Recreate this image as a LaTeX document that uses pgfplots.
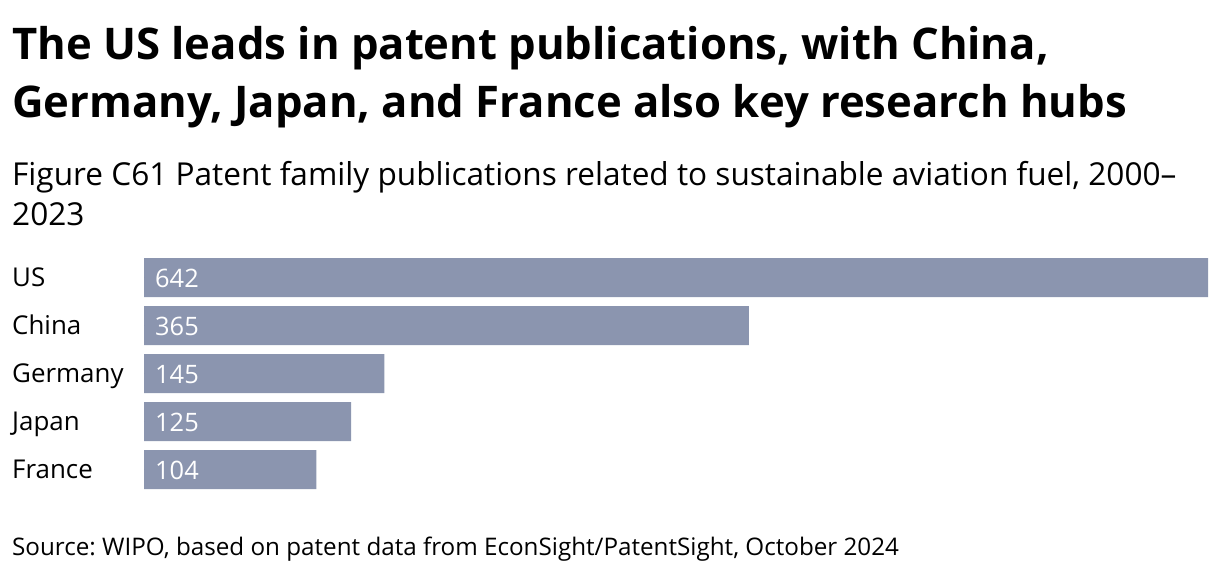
\documentclass[border=0pt]{standalone}
\usepackage{fontspec}
\setmainfont{Open Sans}
\usepackage{pgfplots}
\pgfplotsset{compat=1.18}
\definecolor{barc}{HTML}{8B95AF}
\frenchspacing
\begin{document}
\begin{tikzpicture}[x=1bp,y=1bp]
\path[use as bounding box] (0,0) rectangle (1220,-574);
% titles
\node[anchor=base west, inner sep=0, font=\fontsize{43.8}{50}\selectfont\bfseries] at (12,-60) {The US leads in patent publications, with China,};
\node[anchor=base west, inner sep=0, font=\fontsize{43.8}{50}\selectfont\bfseries] at (12,-118) {Germany, Japan, and France also key research hubs};
\node[anchor=base west, inner sep=0, font=\fontsize{31.7}{38}\selectfont] at (12,-186) {Figure C61 Patent family publications related to sustainable aviation fuel, 2000–};
\node[anchor=base west, inner sep=0, font=\fontsize{31.7}{38}\selectfont] at (12,-226) {2023};
\node[anchor=base west, inner sep=0, font=\fontsize{24.3}{28}\selectfont] at (12,-555) {Source: WIPO, based on patent data from EconSight/PatentSight, October 2024};

\begin{axis}[
    at={(144bp,-258bp)}, anchor=north west,
    scale only axis,
    width=1064bp, height=231bp,
    xmin=0, xmax=642,
    ymin=-0.40625, ymax=4.40625,
    y dir=reverse,
    axis line style={draw=none},
    tick style={draw=none},
    major tick length=0pt,
    xtick=\empty,
    ytick={0,1,2,3,4},
    yticklabels={US,China,Germany,Japan,France},
    yticklabel style={anchor=base west, inner sep=0pt, xshift=-132bp, yshift=-9bp,
        font=\fontsize{26}{30}\selectfont},
    clip=false,
    ]
\addplot[xbar, bar width=39bp, fill=barc, draw=none]
    coordinates {(642,0) (365,1) (145,2) (125,3) (104,4)};
\addplot[only marks, mark=*, mark size=0pt, mark options={draw=none, fill=none},
    point meta=explicit symbolic,
    nodes near coords,
    every node near coord/.append style={anchor=base west, inner sep=0pt,
        text=white, xshift=11bp, yshift=-10bp, font=\fontsize{25.5}{30}\selectfont}]
    coordinates {(0,0)[642] (0,1)[365] (0,2)[145] (0,3)[125] (0,4)[104]};
\end{axis}
\end{tikzpicture}
\end{document}
